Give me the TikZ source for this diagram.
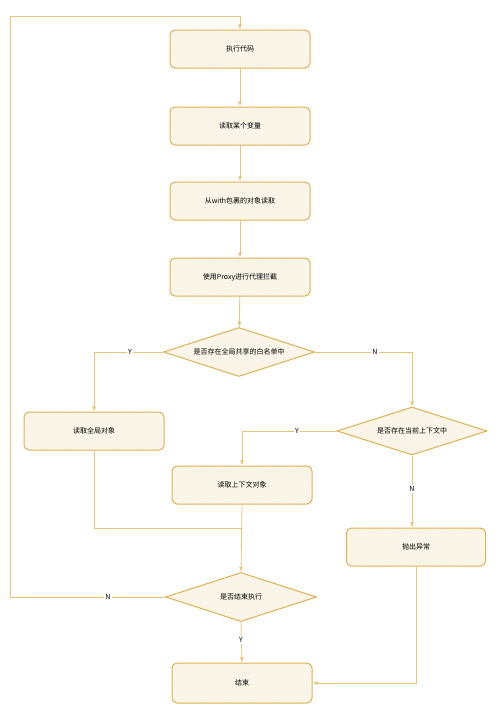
\documentclass[tikz,border=0pt]{standalone}
\usepackage{fontspec}
\setmainfont{Noto Sans CJK SC}
\usetikzlibrary{shapes.geometric,patterns}
\definecolor{linegold}{RGB}{232,196,118}
\definecolor{boxgold}{RGB}{222,178,80}
\definecolor{boxfill}{RGB}{254,250,242}
\definecolor{hatch}{RGB}{246,236,214}

\begin{document}
\begin{tikzpicture}[x=1pt,y=-1pt]
            \tikzstyle{every node}+=[font=\fontsize{7pt}{8pt}\selectfont]
            \tikzstyle{stepbox}=[draw=boxgold,line width=1pt,rounded corners=5pt,preaction={fill=boxfill},pattern=north east lines,pattern color=hatch,minimum width=140pt,minimum height=38pt,inner sep=0pt]
            \tikzstyle{ask}=[diamond,draw=boxgold,line width=1pt,preaction={fill=boxfill},pattern=north east lines,pattern color=hatch,minimum width=151pt,minimum height=49pt,inner sep=0pt,aspect=3]
            \tikzstyle{flow}=[draw=linegold,line width=0.8pt,-latex]
            \tikzstyle{mergeline}=[draw=linegold,line width=0.8pt]
            \tikzstyle{yn}=[fill=white,inner sep=1pt]
            \useasboundingbox (0,0) rectangle (500,715);
            \node [stepbox] (run) at (240,49) {执行代码};
            \node [stepbox] (readvar) at (240,126) {读取某个变量};
            \node [stepbox] (readwith) at (240,201) {从with包裹的对象读取};
            \node [stepbox] (proxy) at (240,277) {使用Proxy进行代理拦截};
            \node [ask] (inlist) at (239,352) {是否存在全局共享的白名单中};
            \node [stepbox] (global) at (94,431) {读取全局对象};
            \node [ask,minimum width=150pt,minimum height=48pt] (inctx) at (412,431) {是否存在当前上下文中};
            \node [stepbox] (ctx) at (242,485) {读取上下文对象};
            \node [stepbox,minimum width=139pt] (throw) at (416,547) {抛出异常};
            \node [ask] (done) at (241,597) {是否结束执行};
            \node [stepbox,minimum height=40pt] (finish) at (242,683) {结束};
            \coordinate (loop) at (10,16);
            \coordinate (merge) at (242,528);
            \draw [flow] (run) -- (readvar);
            \draw [flow] (readvar) -- (readwith);
            \draw [flow] (readwith) -- (proxy);
            \draw [flow] (proxy) -- (inlist);
            \draw [flow] (inlist.west) -| (global.north);
            \draw (130,352) node [yn] {Y};
            \draw [flow] (inlist.east) -| (inctx.north);
            \draw (375,352) node [yn] {N};
            \draw [flow] (inctx.west) -| (ctx.north);
            \draw (297,431) node [yn] {Y};
            \draw [flow] (inctx.south) -- (inctx.south |- throw.north);
            \draw (412,489) node [yn] {N};
            \draw [mergeline] (global.south) |- (merge);
            \draw [flow] (ctx.south) -- (done.north);
            \draw [flow] (done.west) -| (loop) -| (run.north);
            \draw (108,597) node [yn] {N};
            \draw [flow] (done.south) -- (finish.north);
            \draw (241,640) node [yn] {Y};
            \draw [flow] (throw.south) |- (finish.east);
        \end{tikzpicture}
\end{document}
